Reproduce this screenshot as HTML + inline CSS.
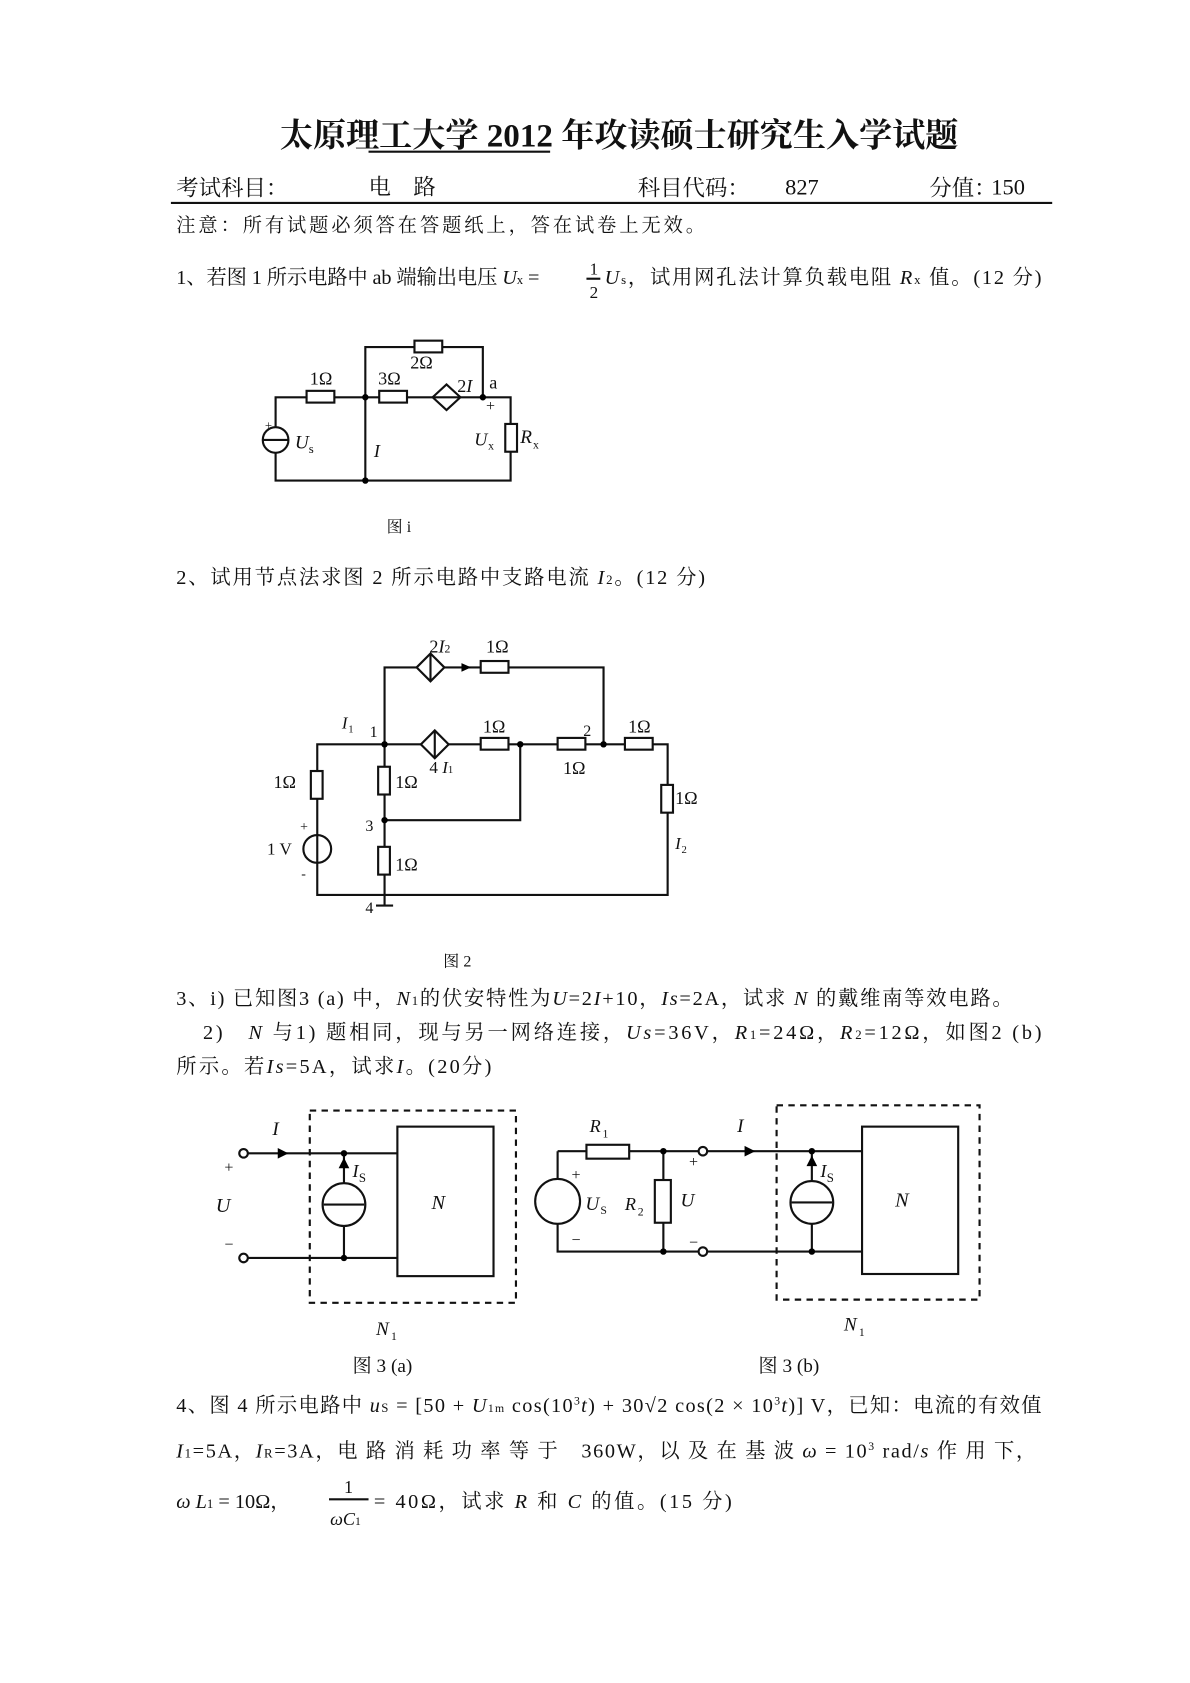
<!DOCTYPE html>
<html><head><meta charset="utf-8"><style>
html,body{margin:0;padding:0;background:#fff}
svg{display:block}
text{font-family:"Liberation Serif","Noto Serif CJK SC","Noto Sans CJK SC",serif;fill:#111}
.c{stroke:#111;stroke-width:2;fill:none}
.r{stroke:#111;stroke-width:2;fill:#fff}
.d{stroke:#111;stroke-width:2;fill:none;stroke-dasharray:6 5}
</style></head><body>
<svg width="1190" height="1683" viewBox="0 0 1114 1576" preserveAspectRatio="none" xmlns="http://www.w3.org/2000/svg">
<text x="262" y="137" font-size="31" font-weight="bold">太原理工大学 2012 年攻读硕士研究生入学试题</text>
<line x1="345" y1="142" x2="515" y2="142" class="c" stroke-width="1.5"/>
<text x="165" y="183" font-size="21">考试科目：</text>
<text x="345" y="182" font-size="21">电　路</text>
<text x="597" y="183" font-size="21">科目代码：</text>
<text x="735" y="182" font-size="21">827</text>
<text x="870" y="183" font-size="21">分值：</text>
<text x="928" y="182" font-size="21">150</text>
<line x1="160" y1="190" x2="985" y2="190" class="c" stroke-width="1.5"/>
<text x="165" y="217" font-size="18" textLength="495" lengthAdjust="spacing">注意：所有试题必须答在答题纸上，答在试卷上无效。</text>
<text x="165" y="266" font-size="19" textLength="340" lengthAdjust="spacing">1、若图 1 所示电路中 ab 端输出电压 <tspan font-style="italic">U</tspan><tspan font-size="12">x</tspan> = </text>
<text x="552" y="257" font-size="16">1</text><line x1="549" y1="261" x2="562" y2="261" class="c" stroke-width="1"/><text x="552" y="279" font-size="16">2</text>
<text x="566" y="266" font-size="19" textLength="409" lengthAdjust="spacing"><tspan font-style="italic">U</tspan><tspan font-size="12">s</tspan>，试用网孔法计算负载电阻 <tspan font-style="italic">R</tspan><tspan font-size="12">x</tspan> 值。(12 分)</text>
<g>
<path class="c" d="M258 372 H478 V450 H258 Z M342 372 V325 H452 V372 M342 372 V450"/>
<rect class="r" x="287" y="366" width="26" height="11"/>
<rect class="r" x="355" y="366" width="26" height="11"/>
<rect class="r" x="388" y="319" width="26" height="11"/>
<path class="r" d="M405 372 L418 360 L431 372 L418 384 Z"/><line class="c" x1="405" y1="372" x2="431" y2="372"/>
<circle class="r" cx="258" cy="412" r="12"/><line class="c" x1="246" y1="412" x2="270" y2="412"/>
<rect class="r" x="473" y="397" width="11" height="26"/>
<circle cx="342" cy="372" r="3"/><circle cx="452" cy="372" r="3"/><circle cx="342" cy="450" r="3"/>
<text x="290" y="360" font-size="17">1Ω</text><text x="354" y="360" font-size="17">3Ω</text><text x="384" y="345" font-size="17">2Ω</text>
<text x="428" y="367" font-size="17">2<tspan font-style="italic">I</tspan></text><text x="458" y="364" font-size="17">a</text>
<text x="455" y="385" font-size="15">+</text><text x="248" y="402" font-size="12">+</text>
<text x="276" y="420" font-size="18" font-style="italic">U</text><text x="289" y="424" font-size="12">s</text>
<text x="350" y="428" font-size="17" font-style="italic">I</text>
<text x="444" y="417" font-size="17" font-style="italic">U</text><text x="457" y="421" font-size="11">x</text>
<text x="487" y="415" font-size="18" font-style="italic">R</text><text x="499" y="420" font-size="11">x</text>
<text x="362" y="498" font-size="15">图 i</text>
</g>
<text x="165" y="547" font-size="19" textLength="495" lengthAdjust="spacing">2、试用节点法求图 2 所示电路中支路电流 <tspan font-style="italic">I</tspan><tspan font-size="12">2</tspan>。(12 分)</text>
<g>
<path class="c" d="M297 697 H625 V838 H297 Z M360 697 V625 H565 V697 M360 697 V838 M360 768 H487 V697"/>
<path class="r" d="M390 625 L403 612 L416 625 L403 638 Z"/><line class="c" x1="403" y1="612" x2="403" y2="638"/>
<path class="r" d="M394 697 L407 684 L420 697 L407 710 Z"/><line class="c" x1="407" y1="684" x2="407" y2="710"/>
<polygon points="441,625 432,621 432,629"/>
<rect class="r" x="450" y="619" width="26" height="11"/>
<rect class="r" x="450" y="691" width="26" height="11"/>
<rect class="r" x="522" y="691" width="26" height="11"/>
<rect class="r" x="585" y="691" width="26" height="11"/>
<rect class="r" x="291" y="722" width="11" height="26"/>
<rect class="r" x="354" y="718" width="11" height="26"/>
<rect class="r" x="354" y="793" width="11" height="26"/>
<rect class="r" x="619" y="735" width="11" height="26"/>
<circle class="r" cx="297" cy="795" r="13"/><line class="c" x1="297" y1="782" x2="297" y2="808"/>
<circle cx="360" cy="697" r="3"/><circle cx="565" cy="697" r="3"/><circle cx="360" cy="768" r="3"/><circle cx="487" cy="697" r="3"/>
<line class="c" x1="360" y1="838" x2="360" y2="848"/><line class="c" x1="352" y1="848" x2="368" y2="848"/>
<text x="402" y="611" font-size="17">2<tspan font-style="italic">I</tspan><tspan font-size="11">2</tspan></text><text x="455" y="611" font-size="17">1Ω</text>
<text x="320" y="682" font-size="16" font-style="italic">I</text><text x="326" y="686" font-size="10">1</text>
<text x="346" y="690" font-size="15">1</text><text x="452" y="686" font-size="17">1Ω</text>
<text x="546" y="689" font-size="15">2</text><text x="588" y="686" font-size="17">1Ω</text>
<text x="527" y="725" font-size="17">1Ω</text>
<text x="256" y="738" font-size="17">1Ω</text><text x="370" y="738" font-size="17">1Ω</text>
<text x="402" y="724" font-size="16">4 <tspan font-style="italic">I</tspan><tspan font-size="10">1</tspan></text>
<text x="342" y="778" font-size="15">3</text>
<text x="370" y="815" font-size="17">1Ω</text>
<text x="632" y="753" font-size="17">1Ω</text>
<text x="632" y="795" font-size="16" font-style="italic">I</text><text x="638" y="799" font-size="10">2</text>
<text x="281" y="778" font-size="13">+</text><text x="250" y="800" font-size="16">1 V</text><text x="282" y="822" font-size="13">-</text>
<text x="342" y="855" font-size="15">4</text>
<text x="415" y="905" font-size="15">图 2</text>
</g>
<text x="165" y="941" font-size="19" textLength="783" lengthAdjust="spacing">3、i) 已知图3 (a) 中，<tspan font-style="italic">N</tspan><tspan font-size="12">1</tspan>的伏安特性为<tspan font-style="italic">U</tspan>=2<tspan font-style="italic">I</tspan>+10，<tspan font-style="italic">Is</tspan>=2A，试求 <tspan font-style="italic">N</tspan> 的戴维南等效电路。</text>
<text x="190" y="973" font-size="19" textLength="785" lengthAdjust="spacing">2)　<tspan font-style="italic">N</tspan> 与1) 题相同，现与另一网络连接，<tspan font-style="italic">Us</tspan>=36V，<tspan font-style="italic">R</tspan><tspan font-size="12">1</tspan>=24Ω，<tspan font-style="italic">R</tspan><tspan font-size="12">2</tspan>=12Ω，如图2 (b)</text>
<text x="165" y="1005" font-size="19" textLength="295" lengthAdjust="spacing">所示。若<tspan font-style="italic">Is</tspan>=5A，试求<tspan font-style="italic">I</tspan>。(20分)</text>
<g>
<rect class="d" x="290" y="1040" width="193" height="180"/>
<rect class="r" x="372" y="1055" width="90" height="140"/>
<path class="c" d="M232 1080 H372 M232 1178 H372 M322 1080 V1108 M322 1148 V1178"/>
<circle class="r" cx="228" cy="1080" r="4"/><circle class="r" cx="228" cy="1178" r="4"/>
<circle class="r" cx="322" cy="1128" r="20"/><line class="c" x1="303" y1="1128" x2="341" y2="1128"/>
<polygon points="270,1080 260,1075 260,1085"/><polygon points="322,1084 317,1094 327,1094"/>
<circle cx="322" cy="1080" r="3"/><circle cx="322" cy="1178" r="3"/>
<text x="255" y="1063" font-size="18" font-style="italic">I</text>
<text x="210" y="1098" font-size="15">+</text><text x="210" y="1170" font-size="15">−</text>
<text x="202" y="1135" font-size="19" font-style="italic">U</text>
<text x="330" y="1102" font-size="17" font-style="italic">I</text><text x="336" y="1107" font-size="12">S</text>
<text x="404" y="1132" font-size="19" font-style="italic">N</text>
<text x="352" y="1250" font-size="18" font-style="italic">N</text><text x="366" y="1255" font-size="11">1</text>
<text x="330" y="1285" font-size="18">图 3 (a)</text>
</g>
<g>
<rect class="d" x="727" y="1035" width="190" height="182"/>
<rect class="r" x="807" y="1055" width="90" height="138"/>
<path class="c" d="M522 1078 V1172 H658 M522 1078 H658 M662 1078 H807 M662 1172 H807 M621 1078 V1172 M760 1078 V1106 M760 1146 V1172"/>
<rect class="r" x="549" y="1072" width="40" height="13"/>
<rect class="r" x="613" y="1105" width="15" height="40"/>
<circle class="r" cx="522" cy="1125" r="21"/>
<circle class="r" cx="760" cy="1126" r="20"/><line class="c" x1="741" y1="1126" x2="779" y2="1126"/>
<circle class="r" cx="658" cy="1078" r="4"/><circle class="r" cx="658" cy="1172" r="4"/>
<polygon points="707,1078 697,1073 697,1083"/><polygon points="760,1082 755,1092 765,1092"/>
<circle cx="621" cy="1078" r="3"/><circle cx="621" cy="1172" r="3"/><circle cx="760" cy="1078" r="3"/><circle cx="760" cy="1172" r="3"/>
<text x="552" y="1060" font-size="17" font-style="italic">R</text><text x="564" y="1065" font-size="11">1</text>
<text x="690" y="1060" font-size="18" font-style="italic">I</text>
<text x="535" y="1105" font-size="15">+</text><text x="535" y="1166" font-size="15">−</text>
<text x="548" y="1133" font-size="18" font-style="italic">U</text><text x="562" y="1137" font-size="11">S</text>
<text x="585" y="1133" font-size="17" font-style="italic">R</text><text x="597" y="1138" font-size="11">2</text>
<text x="637" y="1130" font-size="18" font-style="italic">U</text>
<text x="645" y="1093" font-size="15">+</text><text x="645" y="1168" font-size="15">−</text>
<text x="768" y="1102" font-size="17" font-style="italic">I</text><text x="774" y="1107" font-size="12">S</text>
<text x="838" y="1130" font-size="19" font-style="italic">N</text>
<text x="790" y="1246" font-size="18" font-style="italic">N</text><text x="804" y="1251" font-size="11">1</text>
<text x="710" y="1285" font-size="18">图 3 (b)</text>
</g>
<text x="165" y="1322" font-size="19" textLength="810" lengthAdjust="spacing">4、图 4 所示电路中 <tspan font-style="italic">u</tspan><tspan font-size="12">S</tspan> = [50 + <tspan font-style="italic">U</tspan><tspan font-size="11">1m</tspan> cos(10<tspan font-size="11" dy="-7">3</tspan><tspan dy="7" font-style="italic">t</tspan>) + 30√2 cos(2 × 10<tspan font-size="11" dy="-7">3</tspan><tspan dy="7" font-style="italic">t</tspan>)] V，已知：电流的有效值</text>
<text x="165" y="1365" font-size="19" textLength="805" lengthAdjust="spacing"><tspan font-style="italic">I</tspan><tspan font-size="12">1</tspan>=5A，<tspan font-style="italic">I</tspan><tspan font-size="12">R</tspan>=3A，电 路 消 耗 功 率 等 于　360W，以 及 在 基 波 <tspan font-style="italic">ω</tspan> = 10<tspan font-size="11" dy="-7">3</tspan><tspan dy="7"> rad/</tspan><tspan font-style="italic">s</tspan> 作 用 下，</text>
<text x="165" y="1412" font-size="19"><tspan font-style="italic">ω L</tspan><tspan font-size="12">1</tspan> = 10Ω，</text>
<text x="322" y="1398" font-size="17">1</text><line x1="308" y1="1404" x2="345" y2="1404" class="c" stroke-width="1"/>
<text x="309" y="1428" font-size="17" font-style="italic">ωC<tspan font-size="11" font-style="normal">1</tspan></text>
<text x="350" y="1412" font-size="19" textLength="335" lengthAdjust="spacing">= 40Ω，试求 <tspan font-style="italic">R</tspan> 和 <tspan font-style="italic">C</tspan> 的值。(15 分)</text>
</svg>
</body></html>
